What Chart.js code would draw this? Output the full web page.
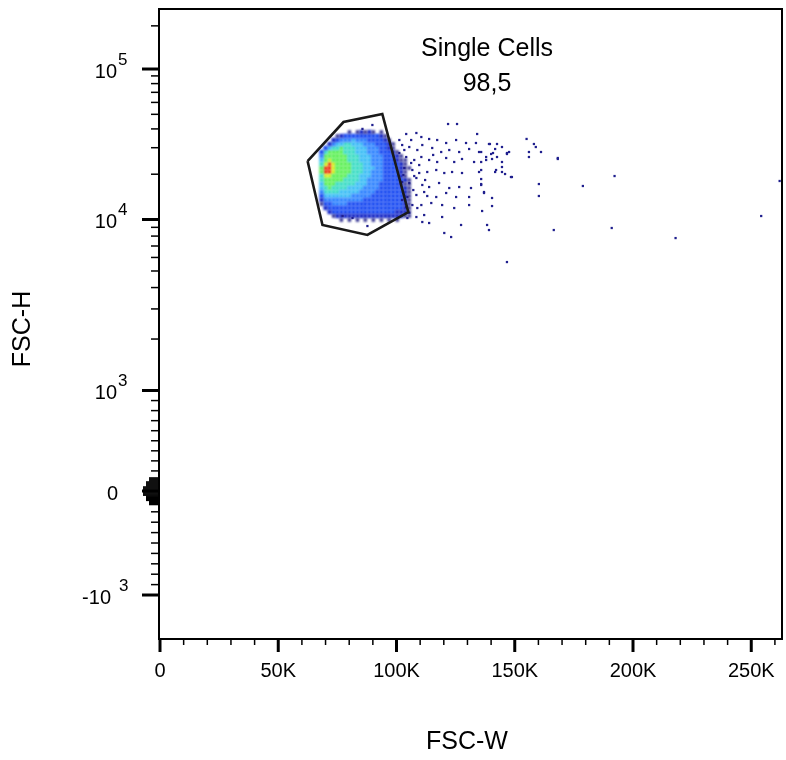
<!DOCTYPE html>
<html>
<head>
<meta charset="utf-8">
<script src="https://cdn.jsdelivr.net/npm/chart.js@4.4.0/dist/chart.umd.min.js"></script>
<style>
html,body{margin:0;padding:0;background:#fff;}
canvas{display:block;}
</style>
</head>
<body>
<canvas id="c" width="786" height="760"></canvas>
<script>
// ---------------- data ----------------
const xAxisTitle = 'FSC-W';
const yAxisTitle = 'FSC-H';
const gateName = 'Single Cells';
const gatePercent = '98,5';

// x axis (values in thousands)
const xMin = 0;
const xMax = 263;
const xMajorTicks = [0, 50, 100, 150, 200, 250];
const xMajorLabels = ['0', '50K', '100K', '150K', '200K', '250K'];
const xMinorTicks = [10, 20, 30, 40, 60, 70, 80, 90, 110, 120, 130, 140, 160, 170, 180, 190, 210, 220, 230, 240, 260];

// y axis (biexponential display)
const yMin = -1423;
const yMax = 262144;
const yMajorTicks = [100000, 10000, 1000, 0, -1000];
const yMajorBase = ['10', '10', '10', '0', '-10'];
const yMajorExp = ['5', '4', '3', '', '3'];
const yMinorTicks = [200000, 90000, 80000, 70000, 60000, 50000, 40000, 30000, 20000,
  9000, 8000, 7000, 6000, 5000, 4000, 3000, 2000,
  900, 800, 700, 600, 500, 400, 300, 200,
  -200, -300, -400, -500, -600, -700, -800, -900];
const yZeroTicks = [-130, -120, -110, -100, -90, -80, -70, -60, -50, -40, -30, -20, -10,
  10, 20, 30, 40, 50, 60, 70, 80, 90, 100, 110, 120, 130];

// density map of the main population: bins and density level (0 = empty .. 9 = highest)
const xBinsK = [68.3, 70.0, 71.7, 73.4, 75.0, 76.7, 78.4, 80.1, 81.8, 83.5, 85.2, 86.8,
  88.5, 90.2, 91.9, 93.6, 95.3, 96.9, 98.6, 100.3, 102.0, 103.7, 105.4];
const yBins = [38140, 35880, 33740, 31750, 29860, 28090, 26420, 24850, 23380, 21990, 20690, 19450,
  18300, 17210, 16190, 15230, 14330, 13480, 12680, 11920, 11210, 10550, 9930];
const densityRows = [
  "00000001012121010000000",
  "00001233333333321000000",
  "00023444544433332100000",
  "00245566555444333210000",
  "03566766655544433210000",
  "36777766655544433321000",
  "47777776665554443332100",
  "57877776665554443332110",
  "68987777666554443333210",
  "79987777666555443333211",
  "79987777666554443333210",
  "68877776665554443333210",
  "67777766665544443333321",
  "57776666655544433333211",
  "56766665555444433333321",
  "46666555554444333333321",
  "35555555444443333333321",
  "24444444444333333333321",
  "13344443333333333333321",
  "02333333333333333333321",
  "00233333333333333332221",
  "00012222222222222222211",
  "00000101010101010101000"
];

// sparse events outside the dense core
const outlierXK = [89.8, 85.6, 121.8, 125.6, 134.1, 104.1, 108.4, 110.5, 113.8, 117.2, 121.0, 125.2,
  129.4, 133.6, 139.1, 142.5, 101.2, 102.4, 105.4, 108.8, 110.9, 115.1, 118.9, 122.3,
  126.5, 130.7, 134.9, 140.8, 146.7, 101.2, 104.1, 107.5, 110.5, 113.8, 117.2, 121.0,
  124.4, 127.7, 132.8, 137.9, 144.6, 103.3, 106.7, 109.6, 113.0, 116.8, 120.2, 123.5,
  127.7, 134.9, 142.1, 148.4, 102.4, 105.4, 108.4, 110.9, 113.8, 118.0, 122.3, 126.5,
  131.5, 135.8, 104.6, 108.4, 111.7, 116.8, 121.0, 125.2, 130.7, 137.0, 104.1, 106.7,
  110.5, 114.7, 119.3, 124.4, 130.7, 104.6, 108.4, 110.9, 113.8, 119.3, 127.3, 138.3,
  139.1, 120.2, 123.1, 105.4, 111.7, 77.2, 81.4, 87.7, 155.0, 158.1, 158.9, 161.1,
  156.0, 156.0, 168.2, 168.2, 139.5, 144.6, 141.7, 140.0, 147.6, 146.7, 142.5, 140.4,
  137.9, 135.8, 135.8, 135.8, 141.7, 144.6, 144.6, 145.9, 148.8, 135.8, 135.8, 137.0,
  140.4, 140.4, 136.2, 146.7, 160.2, 160.2, 166.5, 178.8, 192.2, 191.0, 218.0, 254.2,
  262.0, 103.3, 106.2, 102.9, 107.1, 102.4, 108.8, 106.2, 112.1, 109.6, 115.5, 113.0, 107.5];
const outlierY = [42460, 40000, 43110, 43110, 37000, 37000, 37570, 35330, 34270, 33750, 32240, 33750,
  32240, 32240, 31750, 31750, 33750, 31260, 30320, 28960, 31260, 29870, 28090, 28960,
  28090, 29410, 28090, 27660, 27660, 27660, 26020, 24860, 26020, 24860, 24110, 25630,
  24110, 25240, 24110, 24860, 24110, 21990, 21330, 20370, 20690, 21330, 20370, 20690,
  20370, 20690, 21330, 19160, 17750, 17480, 18870, 16960, 16440, 17480, 16190, 16440,
  16190, 16960, 14110, 14550, 15230, 14110, 15000, 14110, 14110, 15230, 12110, 12480,
  12480, 12870, 12480, 11920, 12480, 10230, 10390, 9670, 9540, 10390, 9290, 9290,
  8680, 8340, 7900, 11050, 10710, 10550, 10230, 9160, 34300, 31750, 30320, 28090,
  28090, 26020, 25630, 25240, 31750, 30320, 29410, 27240, 28090, 27240, 26020, 25240,
  26020, 28090, 24110, 21330, 20690, 22330, 20690, 20060, 19160, 18580, 17210, 15000,
  13900, 12290, 11390, 5640, 17210, 14330, 8680, 16700, 19450, 8920, 7790, 10550,
  18030, 28960, 23740, 19750, 15700, 13480, 11920, 33750, 18300, 23020, 26850, 14330, 19450];

// "Single Cells" polygon gate
const gateXK = [62.4, 77.6, 94.0, 105.0, 87.7, 68.7, 62.4];
const gateY = [24470, 44440, 50230, 11210, 8120, 9290, 24470];

// ---------------- biexponential-like scale ----------------
function biexT(v) {
  if (v >= 1000) {
    const L = Math.log10(v);
    if (L <= 4) return 100.5 + (L - 3) * 171;
    if (L <= 5) return 271.5 + (L - 4) * 150.5;
    return 422 + (L - 5) * 143.4;
  }
  if (v >= 0) return v * 0.1005;
  return v * 0.104;
}
function biexInv(d) {
  if (d >= 100.5) {
    let L;
    if (d <= 271.5) L = 3 + (d - 100.5) / 171;
    else if (d <= 422) L = 4 + (d - 271.5) / 150.5;
    else L = 5 + (d - 422) / 143.4;
    return Math.pow(10, L);
  }
  if (d >= 0) return d / 0.1005;
  return d / 0.104;
}
const LinearBase = Chart.LinearScale || Chart.registry.getScale('linear');
class BiexScale extends LinearBase {
  determineDataLimits() {
    this.min = this.options.min;
    this.max = this.options.max;
  }
  buildTicks() {
    return yMajorTicks.map(v => ({ value: v }));
  }
  configure() {
    super.configure();
    this._t0 = biexT(this.min);
    this._t1 = biexT(this.max);
  }
  getPixelForValue(v) {
    return this.getPixelForDecimal((biexT(v) - this._t0) / (this._t1 - this._t0));
  }
  getValueForPixel(p) {
    return biexInv(this.getDecimalForPixel(p) * (this._t1 - this._t0) + this._t0);
  }
}
BiexScale.id = 'biex';
BiexScale.defaults = {};
Chart.register(BiexScale);

// ---------------- datasets ----------------
const levelColors = [null, '#121282', '#0a1cc4', '#1446f2', '#2a80ff', '#38bcf6', '#38dcc4', '#5cf054', '#d8ee1c', '#f03010'];
const levelRadius = [0, 2.3, 2.9, 3.1, 3.1, 3.1, 3.1, 3.1, 3.1, 3.1];
const cellData = Array.from({ length: 10 }, () => []);
densityRows.forEach((row, r) => {
  for (let c = 0; c < row.length; c++) {
    const lv = +row[c];
    if (lv) cellData[lv].push({ x: xBinsK[c], y: yBins[r] });
  }
});

const datasets = [];
datasets.push({
  label: 'gate',
  data: gateXK.map((x, i) => ({ x, y: gateY[i] })),
  showLine: true,
  borderColor: '#1a1a1a',
  borderWidth: 2.6,
  pointRadius: 0,
  fill: false,
  tension: 0,
  borderJoinStyle: 'miter'
});
datasets.push({
  label: 'events',
  data: outlierXK.map((x, i) => ({ x, y: outlierY[i] })),
  pointStyle: 'rect',
  pointRadius: 1.6,
  pointBorderWidth: 0,
  pointBackgroundColor: '#1f1f8e'
});
for (let lv = 1; lv <= 9; lv++) {
  datasets.push({
    label: 'density ' + lv,
    data: cellData[lv],
    pointStyle: 'rect',
    pointRadius: levelRadius[lv],
    pointBorderWidth: 0,
    pointBackgroundColor: levelColors[lv]
  });
}

// soft rendering of the density cells
const softDensity = {
  id: 'softDensity',
  beforeDatasetDraw(chart, args) {
    if (String(chart.data.datasets[args.index].label).startsWith('density')) {
      chart.ctx.save();
      chart.ctx.filter = 'blur(0.9px)';
    }
  },
  afterDatasetDraw(chart, args) {
    if (String(chart.data.datasets[args.index].label).startsWith('density')) {
      chart.ctx.restore();
    }
  }
};

// ---------------- axes, frame and labels ----------------
const FONT = '"Liberation Sans", Arial, sans-serif';
const flowAxes = {
  id: 'flowAxes',
  afterDraw(chart) {
    const { ctx, chartArea: a } = chart;
    const xs = chart.scales.x, ys = chart.scales.y;
    ctx.save();
    ctx.strokeStyle = '#000';
    ctx.fillStyle = '#000';
    ctx.lineCap = 'butt';
    // frame
    ctx.lineWidth = 2;
    ctx.strokeRect(a.left - 1, a.top, a.right - a.left + 1, a.bottom - a.top);

    // y ticks
    const yTick = (v, len, w) => {
      const py = ys.getPixelForValue(v);
      ctx.lineWidth = w;
      ctx.beginPath();
      ctx.moveTo(a.left - 1 - len, py);
      ctx.lineTo(a.left - 1, py);
      ctx.stroke();
    };
    yMinorTicks.forEach(v => yTick(v, 8, 1.5));
    yZeroTicks.forEach(v => yTick(v, Math.abs(v) <= 40 ? 16 : (Math.abs(v) <= 90 ? 13 : 10), 1.5));
    yMajorTicks.forEach(v => yTick(v, 17, 3));

    // x ticks
    const xTick = (v, len, w) => {
      const px = xs.getPixelForValue(v);
      ctx.lineWidth = w;
      ctx.beginPath();
      ctx.moveTo(px, a.bottom);
      ctx.lineTo(px, a.bottom + len);
      ctx.stroke();
    };
    xMinorTicks.forEach(v => xTick(v, 6, 1.5));
    xMajorTicks.forEach(v => xTick(v, 13, 3));

    // x labels
    ctx.font = '20px ' + FONT;
    ctx.textAlign = 'center';
    ctx.textBaseline = 'middle';
    xMajorTicks.forEach((v, i) => {
      ctx.fillText(xMajorLabels[i], xs.getPixelForValue(v), a.bottom + 32);
    });

    // y labels (base + superscript exponent)
    yMajorTicks.forEach((v, i) => {
      const py = ys.getPixelForValue(v);
      ctx.font = '20px ' + FONT;
      ctx.textBaseline = 'middle';
      ctx.textAlign = 'right';
      const exp = yMajorExp[i];
      const neg = yMajorBase[i].startsWith('-');
      const baseRight = exp ? (neg ? 111 : 117) : 118;
      ctx.fillText(yMajorBase[i], baseRight, py + 3);
      if (exp) {
        ctx.font = '17px ' + FONT;
        ctx.textAlign = 'left';
        ctx.fillText(exp, neg ? 119 : 118, py - 9);
      }
    });

    // axis titles
    ctx.font = '25px ' + FONT;
    ctx.textAlign = 'center';
    ctx.textBaseline = 'middle';
    ctx.fillText(xAxisTitle, 467, 742);
    ctx.save();
    ctx.translate(23, 329);
    ctx.rotate(-Math.PI / 2);
    ctx.fillText(yAxisTitle, 0, 0);
    ctx.restore();

    // gate annotation
    ctx.font = '25px ' + FONT;
    ctx.textAlign = 'center';
    ctx.textBaseline = 'alphabetic';
    ctx.fillText(gateName, 487, 56);
    ctx.fillText(gatePercent, 487, 91);
    ctx.restore();
  }
};

new Chart(document.getElementById('c'), {
  type: 'scatter',
  data: { datasets },
  options: {
    responsive: false,
    animation: false,
    devicePixelRatio: 1,
    events: [],
    layout: { padding: { left: 160, right: 2, top: 9, bottom: 121 } },
    plugins: { legend: { display: false }, tooltip: { enabled: false } },
    scales: {
      x: { type: 'linear', min: xMin, max: xMax, display: false },
      y: { type: 'biex', min: yMin, max: yMax, display: false }
    }
  },
  plugins: [softDensity, flowAxes]
});
</script>
</body>
</html>
